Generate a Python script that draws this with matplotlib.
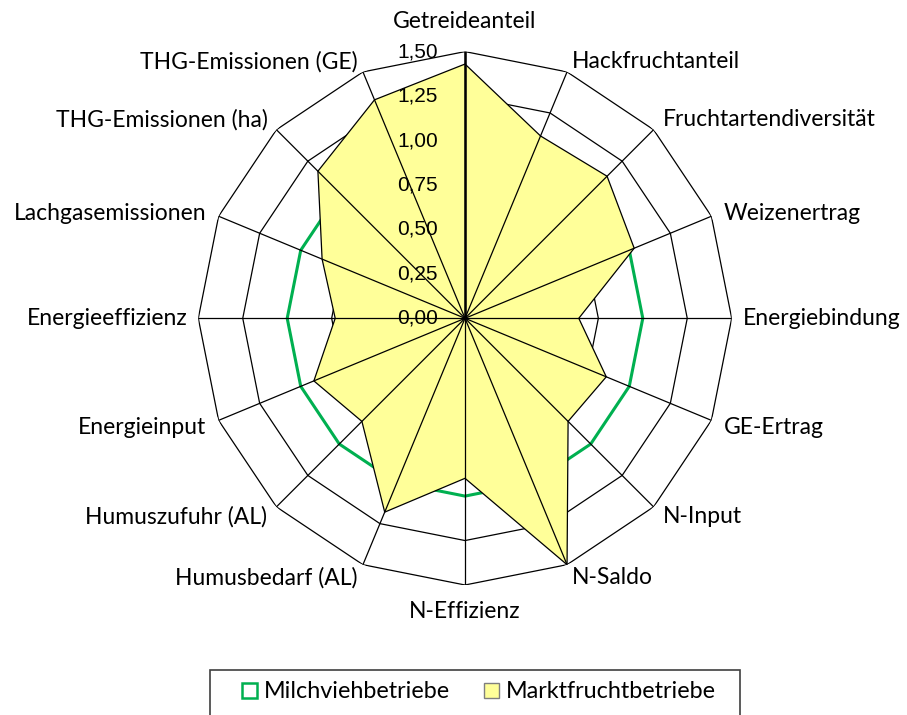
import numpy as np
import matplotlib
matplotlib.use("Agg")
import matplotlib.pyplot as plt
from matplotlib.patches import Patch, Rectangle

categories = ["Getreideanteil", "Hackfruchtanteil", "Fruchtartendiversität", "Weizenertrag",
              "Energiebindung", "GE-Ertrag", "N-Input", "N-Saldo", "N-Effizienz",
              "Humusbedarf (AL)", "Humuszufuhr (AL)", "Energieinput", "Energieeffizienz",
              "Lachgasemissionen", "THG-Emissionen (ha)", "THG-Emissionen (GE)"]
milchvieh = [1.00] * 16
marktfrucht = [1.43, 1.11, 1.13, 1.03, 0.64, 0.86, 0.82, 1.50,
               0.90, 1.18, 0.82, 0.92, 0.73, 0.87, 1.17, 1.33]
ticks = [0.0, 0.25, 0.5, 0.75, 1.0, 1.25, 1.5]
tick_labels = ["0,00", "0,25", "0,50", "0,75", "1,00", "1,25", "1,50"]

LABEL_FONT = "Lato"
TICK_FONT = "Liberation Sans"
LABEL_SIZE = 16.5

fig = plt.figure(figsize=(9.07, 7.15), dpi=100)
W, H = 907, 715
cx, cy, R = 465, 318.3, 266.7
ax = fig.add_axes([(cx - R) / W, (H - cy - R) / H, 2 * R / W, 2 * R / H], projection="polar")
ax.set_theta_zero_location("N")
ax.set_theta_direction(-1)
ax.set_ylim(0, 1.5)
ax.grid(False)
ax.spines["polar"].set_visible(False)
ax.set_xticks([])
ax.set_yticks([])
ax.patch.set_alpha(0)

n = len(categories)
ang = np.arange(n) * 2 * np.pi / n
ang_c = np.append(ang, ang[0])

# polygon rings
for r in ticks[1:]:
    ax.plot(ang_c, [r] * (n + 1), color="black", lw=0.9, zorder=1)

# series
ax.plot(ang_c, milchvieh + milchvieh[:1], color="#00B050", lw=2.2, zorder=2)
ax.fill(ang_c, marktfrucht + marktfrucht[:1], facecolor="#FFFF99", edgecolor="black",
        lw=0.9, zorder=3)

# spokes
for a in ang:
    ax.plot([a, a], [0, 1.5], color="black", lw=0.9, zorder=4)
ax.plot([0, 0], [0, 1.5], color="black", lw=1.8, zorder=5)

# value labels
for v, lab in zip(ticks, tick_labels):
    ax.annotate(lab, xy=(0, v), xytext=(-19.5, 0), textcoords="offset points",
                ha="right", va="center", fontsize=15, family=TICK_FONT, zorder=6)

# category labels, offsets in pixels (right half, mirrored on the left)
off_dx = [0, 5, 9, 12, 11, 12, 9, 5, 0]
off_dy = [30, 10, 10, 3, 0, -7, -10, -13, -27]
for i, (a, lab) in enumerate(zip(ang, categories)):
    k = i if i <= 8 else n - i
    s = np.sin(a)
    if abs(s) < 1e-6:
        ha = "center"
    else:
        ha = "left" if s > 0 else "right"
    dx = off_dx[k] * (1 if s >= 0 else -1)
    ax.annotate(lab, xy=(a, 1.5), xytext=(dx * 0.72, off_dy[k] * 0.72),
                textcoords="offset points", ha=ha, va="center",
                fontsize=LABEL_SIZE, family=LABEL_FONT)

# legend
fig.patches.append(Rectangle((210 / W, -0.05), 530 / W, 0.05 + (H - 670) / H,
                             transform=fig.transFigure, facecolor="white",
                             edgecolor="#404040", lw=1.2))
handles = [Patch(facecolor="white", edgecolor="#00B050", lw=1.8),
           Patch(facecolor="#FFFF99", edgecolor="#7F7F7F", lw=1.0)]
fig.legend(handles, ["Milchviehbetriebe", "Marktfruchtbetriebe"], loc="center",
           bbox_to_anchor=(479 / W, 1 - 692 / H), ncol=2, frameon=False,
           handlelength=0.64, handleheight=0.64, handletextpad=0.3, columnspacing=1.45,
           prop={"family": LABEL_FONT, "size": 16.8})

fig.savefig("out.png", dpi=100)
